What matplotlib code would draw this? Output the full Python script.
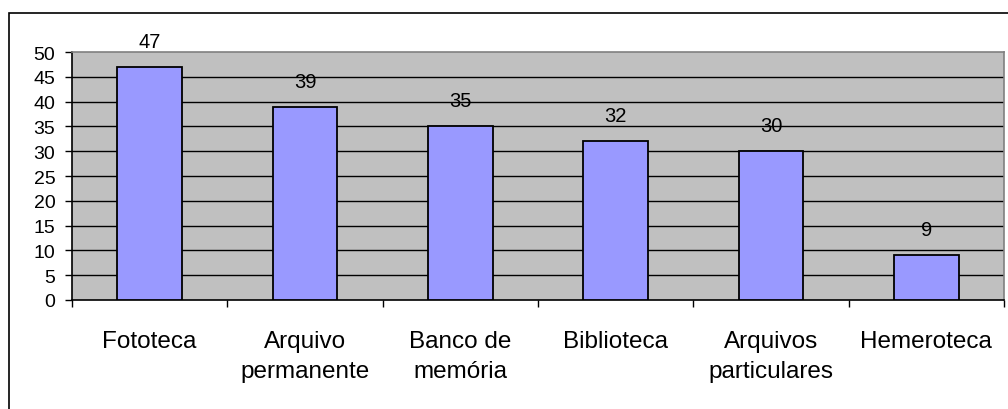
import matplotlib
matplotlib.use('Agg')
import matplotlib.pyplot as plt
import matplotlib.patches as patches
import numpy as np

categories = ['Fototeca', 'Arquivo\npermanente', 'Banco de\nmemória',
              'Biblioteca', 'Arquivos\nparticulares', 'Hemeroteca']
values = [47, 39, 35, 32, 30, 9]
y_ticks = list(range(0, 55, 5))

plt.rcParams['font.family'] = ['Liberation Sans', 'DejaVu Sans']

fig = plt.figure(figsize=(10.08, 4.10), dpi=100)
ax = fig.add_axes([72 / 1008, 109 / 410, 932 / 1008, 248 / 410])

# outer chart border (only left/top visible in the picture)
fig.patches.append(patches.Rectangle((8.5 / 1008, -0.2), 1.2, 0.2 + (410 - 14) / 410,
                                     transform=fig.transFigure, fill=False,
                                     edgecolor='black', linewidth=1.2, clip_on=False))

ax.set_facecolor('#C0C0C0')
x = np.arange(len(values)) + 0.5
ax.bar(x, values, width=0.415, color='#9999FF', edgecolor='black', linewidth=1.3, zorder=3)

for xi, v in zip(x, values):
    ax.annotate(str(v), (xi, v), xytext=(0, 11.5), textcoords='offset points',
                ha='center', va='bottom', fontsize=14.5)

ax.set_xlim(0, len(values))
ax.set_ylim(0, 50)
ax.set_yticks(y_ticks)
ax.tick_params(axis='y', labelsize=14, length=5, width=1, pad=7, direction='out')
for t in y_ticks[1:-1]:
    ax.axhline(t, color='black', linewidth=1, zorder=1)

ax.set_xticks(np.arange(len(values) + 1))
ax.set_xticklabels([])
ax.tick_params(axis='x', length=5, width=1, direction='out')
ax.set_xticks(x, minor=True)
ax.set_xticklabels(categories, minor=True, fontsize=17.5, va='top', linespacing=1.45)
ax.tick_params(axis='x', which='minor', length=0, pad=21.5)

ax.spines['left'].set_color('black')
ax.spines['bottom'].set_color('black')
ax.spines['top'].set_color('#808080')
ax.spines['right'].set_color('#808080')
for s in ax.spines.values():
    s.set_linewidth(1.2)

fig.savefig('out.png', dpi=100)
